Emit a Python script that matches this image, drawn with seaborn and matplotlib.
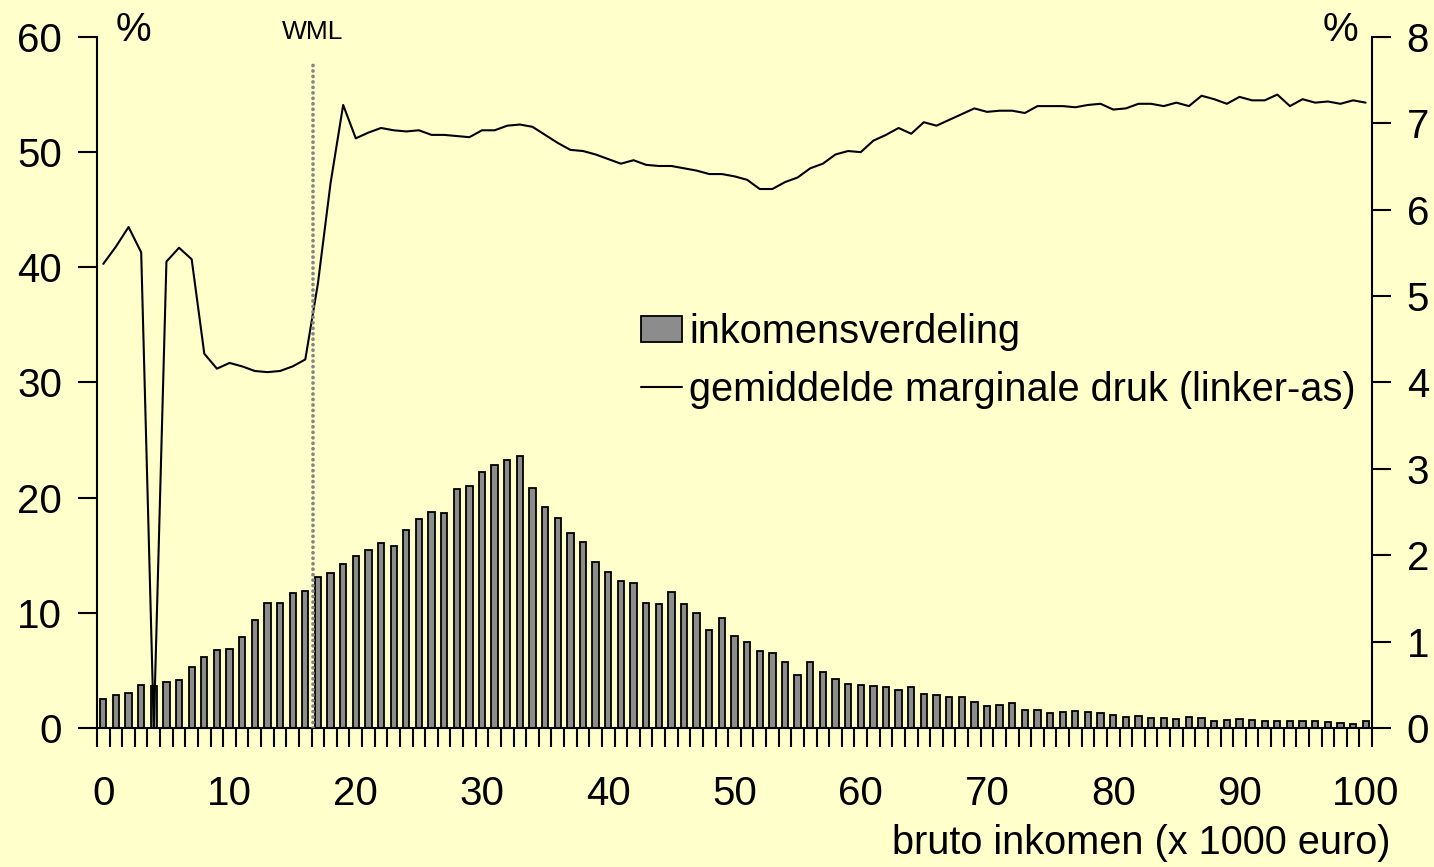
import numpy as np
import pandas as pd
import matplotlib
matplotlib.use("Agg")
import matplotlib.pyplot as plt
from matplotlib.patches import Patch
from matplotlib.lines import Line2D
import seaborn as sns

# ---- data ----
income = list(range(0, 101))  # bruto inkomen (x 1000 euro)

# inkomensverdeling (% of households, right axis)
distribution = [
    0.33, 0.38, 0.41, 0.50, 0.49, 0.53, 0.56, 0.71, 0.82, 0.90,
    0.92, 1.05, 1.25, 1.45, 1.45, 1.56, 1.59, 1.75, 1.79, 1.90,
    1.99, 2.06, 2.14, 2.11, 2.29, 2.42, 2.50, 2.49, 2.77, 2.80,
    2.96, 3.04, 3.10, 3.15, 2.78, 2.56, 2.43, 2.26, 2.15, 1.92,
    1.81, 1.70, 1.68, 1.45, 1.44, 1.57, 1.43, 1.33, 1.14, 1.27,
    1.07, 1.00, 0.89, 0.87, 0.76, 0.61, 0.76, 0.65, 0.57, 0.51,
    0.50, 0.49, 0.48, 0.44, 0.47, 0.39, 0.38, 0.36, 0.36, 0.30,
    0.26, 0.27, 0.29, 0.21, 0.21, 0.17, 0.18, 0.20, 0.19, 0.17,
    0.15, 0.13, 0.14, 0.12, 0.12, 0.10, 0.13, 0.11, 0.08, 0.09,
    0.10, 0.09, 0.08, 0.08, 0.08, 0.08, 0.08, 0.07, 0.06, 0.05,
    0.08,
]

# gemiddelde marginale druk (% , left axis)
marginal_rate = [
    40.3, 41.8, 43.5, 41.3, 0.0, 40.5, 41.7, 40.7, 32.5, 31.2,
    31.7, 31.4, 31.0, 30.9, 31.0, 31.4, 32.0, 38.6, 47.3, 54.1,
    51.2, 51.7, 52.1, 51.9, 51.8, 51.9, 51.5, 51.5, 51.4, 51.3,
    51.9, 51.9, 52.3, 52.4, 52.2, 51.5, 50.8, 50.2, 50.1, 49.8,
    49.4, 49.0, 49.3, 48.9, 48.8, 48.8, 48.6, 48.4, 48.1, 48.1,
    47.9, 47.6, 46.8, 46.8, 47.4, 47.8, 48.6, 49.0, 49.8, 50.1,
    50.0, 51.0, 51.5, 52.1, 51.6, 52.6, 52.3, 52.8, 53.3, 53.8,
    53.5, 53.6, 53.6, 53.4, 54.0, 54.0, 54.0, 53.9, 54.1, 54.2,
    53.7, 53.8, 54.2, 54.2, 54.0, 54.3, 54.0, 54.9, 54.6, 54.2,
    54.8, 54.5, 54.5, 55.0, 54.0, 54.6, 54.3, 54.4, 54.2, 54.5,
    54.3,
]

wml = 16.6  # wettelijk minimumloon
left_ticks = [0, 10, 20, 30, 40, 50, 60]
right_ticks = [0, 1, 2, 3, 4, 5, 6, 7, 8]
x_ticks = [0, 10, 20, 30, 40, 50, 60, 70, 80, 90, 100]

label_bars = "inkomensverdeling"
label_line = "gemiddelde marginale druk (linker-as)"
xlabel = "bruto inkomen (x 1000 euro)"

df = pd.DataFrame({"inkomen": income, "verdeling": distribution, "druk": marginal_rate})

# ---- style ----
sns.set_style("ticks")
BG = "#FFFFCC"
plt.rcParams["font.family"] = ["Liberation Sans", "DejaVu Sans"]
plt.rcParams["text.color"] = "black"
plt.rcParams["xtick.color"] = "black"
plt.rcParams["ytick.color"] = "black"
plt.rcParams["axes.labelcolor"] = "black"
FS = 29
FS_TXT = 28.6

W, H = 1434, 867
fig = plt.figure(figsize=(W / 100, H / 100), dpi=100, facecolor=BG)
ax = fig.add_axes([97 / W, (H - 728) / H, (1372 - 97) / W, (728 - 37) / H])
ax2 = ax.twinx()
ax.set_zorder(ax2.get_zorder() + 1)
ax.patch.set_visible(False)
ax2.patch.set_visible(False)

# bars (right axis)
sns.barplot(data=df, x="inkomen", y="verdeling", native_scale=True, width=0.5,
            color="#8C8C8C", saturation=1, edgecolor="black", linewidth=1.3,
            ax=ax2, zorder=2)
# line (left axis)
sns.lineplot(data=df, x="inkomen", y="druk", color="black", linewidth=1.5,
             ax=ax, zorder=3)

# WML dotted line
ax.plot([wml, wml], [0, 57.7], color="#858585", linewidth=2.7,
        dashes=(0.01, 1.45), dash_capstyle="round", zorder=4)
ax.text(wml, 60.4, "WML", ha="center", va="center", fontsize=19, clip_on=False)

ax.text(2.4, 60.6, "%", ha="center", va="center", fontsize=FS, clip_on=False)
ax.text(98.0, 60.6, "%", ha="center", va="center", fontsize=FS, clip_on=False)

# axes limits and ticks
ax.set_xlim(-0.5, 100.5)
ax.set_ylim(0, 60)
ax2.set_ylim(0, 8)
ax.set_xlabel("")
ax.set_ylabel("")
ax2.set_xlabel("")
ax2.set_ylabel("")

ax.set_yticks(left_ticks)
ax2.set_yticks(right_ticks)
ax.set_xticks(x_ticks)
ax.set_xticks(np.arange(-0.5, 101, 1), minor=True)
ax.tick_params(axis="x", which="major", length=0, pad=34, labelsize=FS)
ax.tick_params(axis="x", which="minor", length=14, width=1.5, direction="out", color="black")
ax.tick_params(axis="y", which="major", length=14, width=1.5, direction="out", pad=11,
               labelsize=FS, left=True, right=False)
ax2.tick_params(axis="y", which="major", length=14, width=1.5, direction="out", pad=11,
                labelsize=FS, right=True, left=False)

for a in (ax, ax2):
    a.spines["top"].set_visible(False)
    for s in a.spines.values():
        s.set_linewidth(1.5)
        s.set_color("black")
ax.spines["right"].set_visible(False)
ax2.spines["left"].set_visible(False)
ax2.spines["bottom"].set_visible(False)

# legend
handles = [Patch(facecolor="#8C8C8C", edgecolor="black", linewidth=1.3),
           Line2D([], [], color="black", linewidth=1.5)]
ax.legend(handles, [label_bars, label_line], loc="upper left",
          bbox_to_anchor=(641 / W, 1 - 313 / H), bbox_transform=fig.transFigure,
          frameon=False, fontsize=FS_TXT, handlelength=1.02, handleheight=0.66,
          handletextpad=0.2, labelspacing=0.5, borderpad=0, borderaxespad=0)

fig.text(1390 / W, 1 - 843 / H, xlabel, ha="right", va="center", fontsize=FS_TXT)

fig.savefig("out.png", dpi=100, facecolor=BG)
